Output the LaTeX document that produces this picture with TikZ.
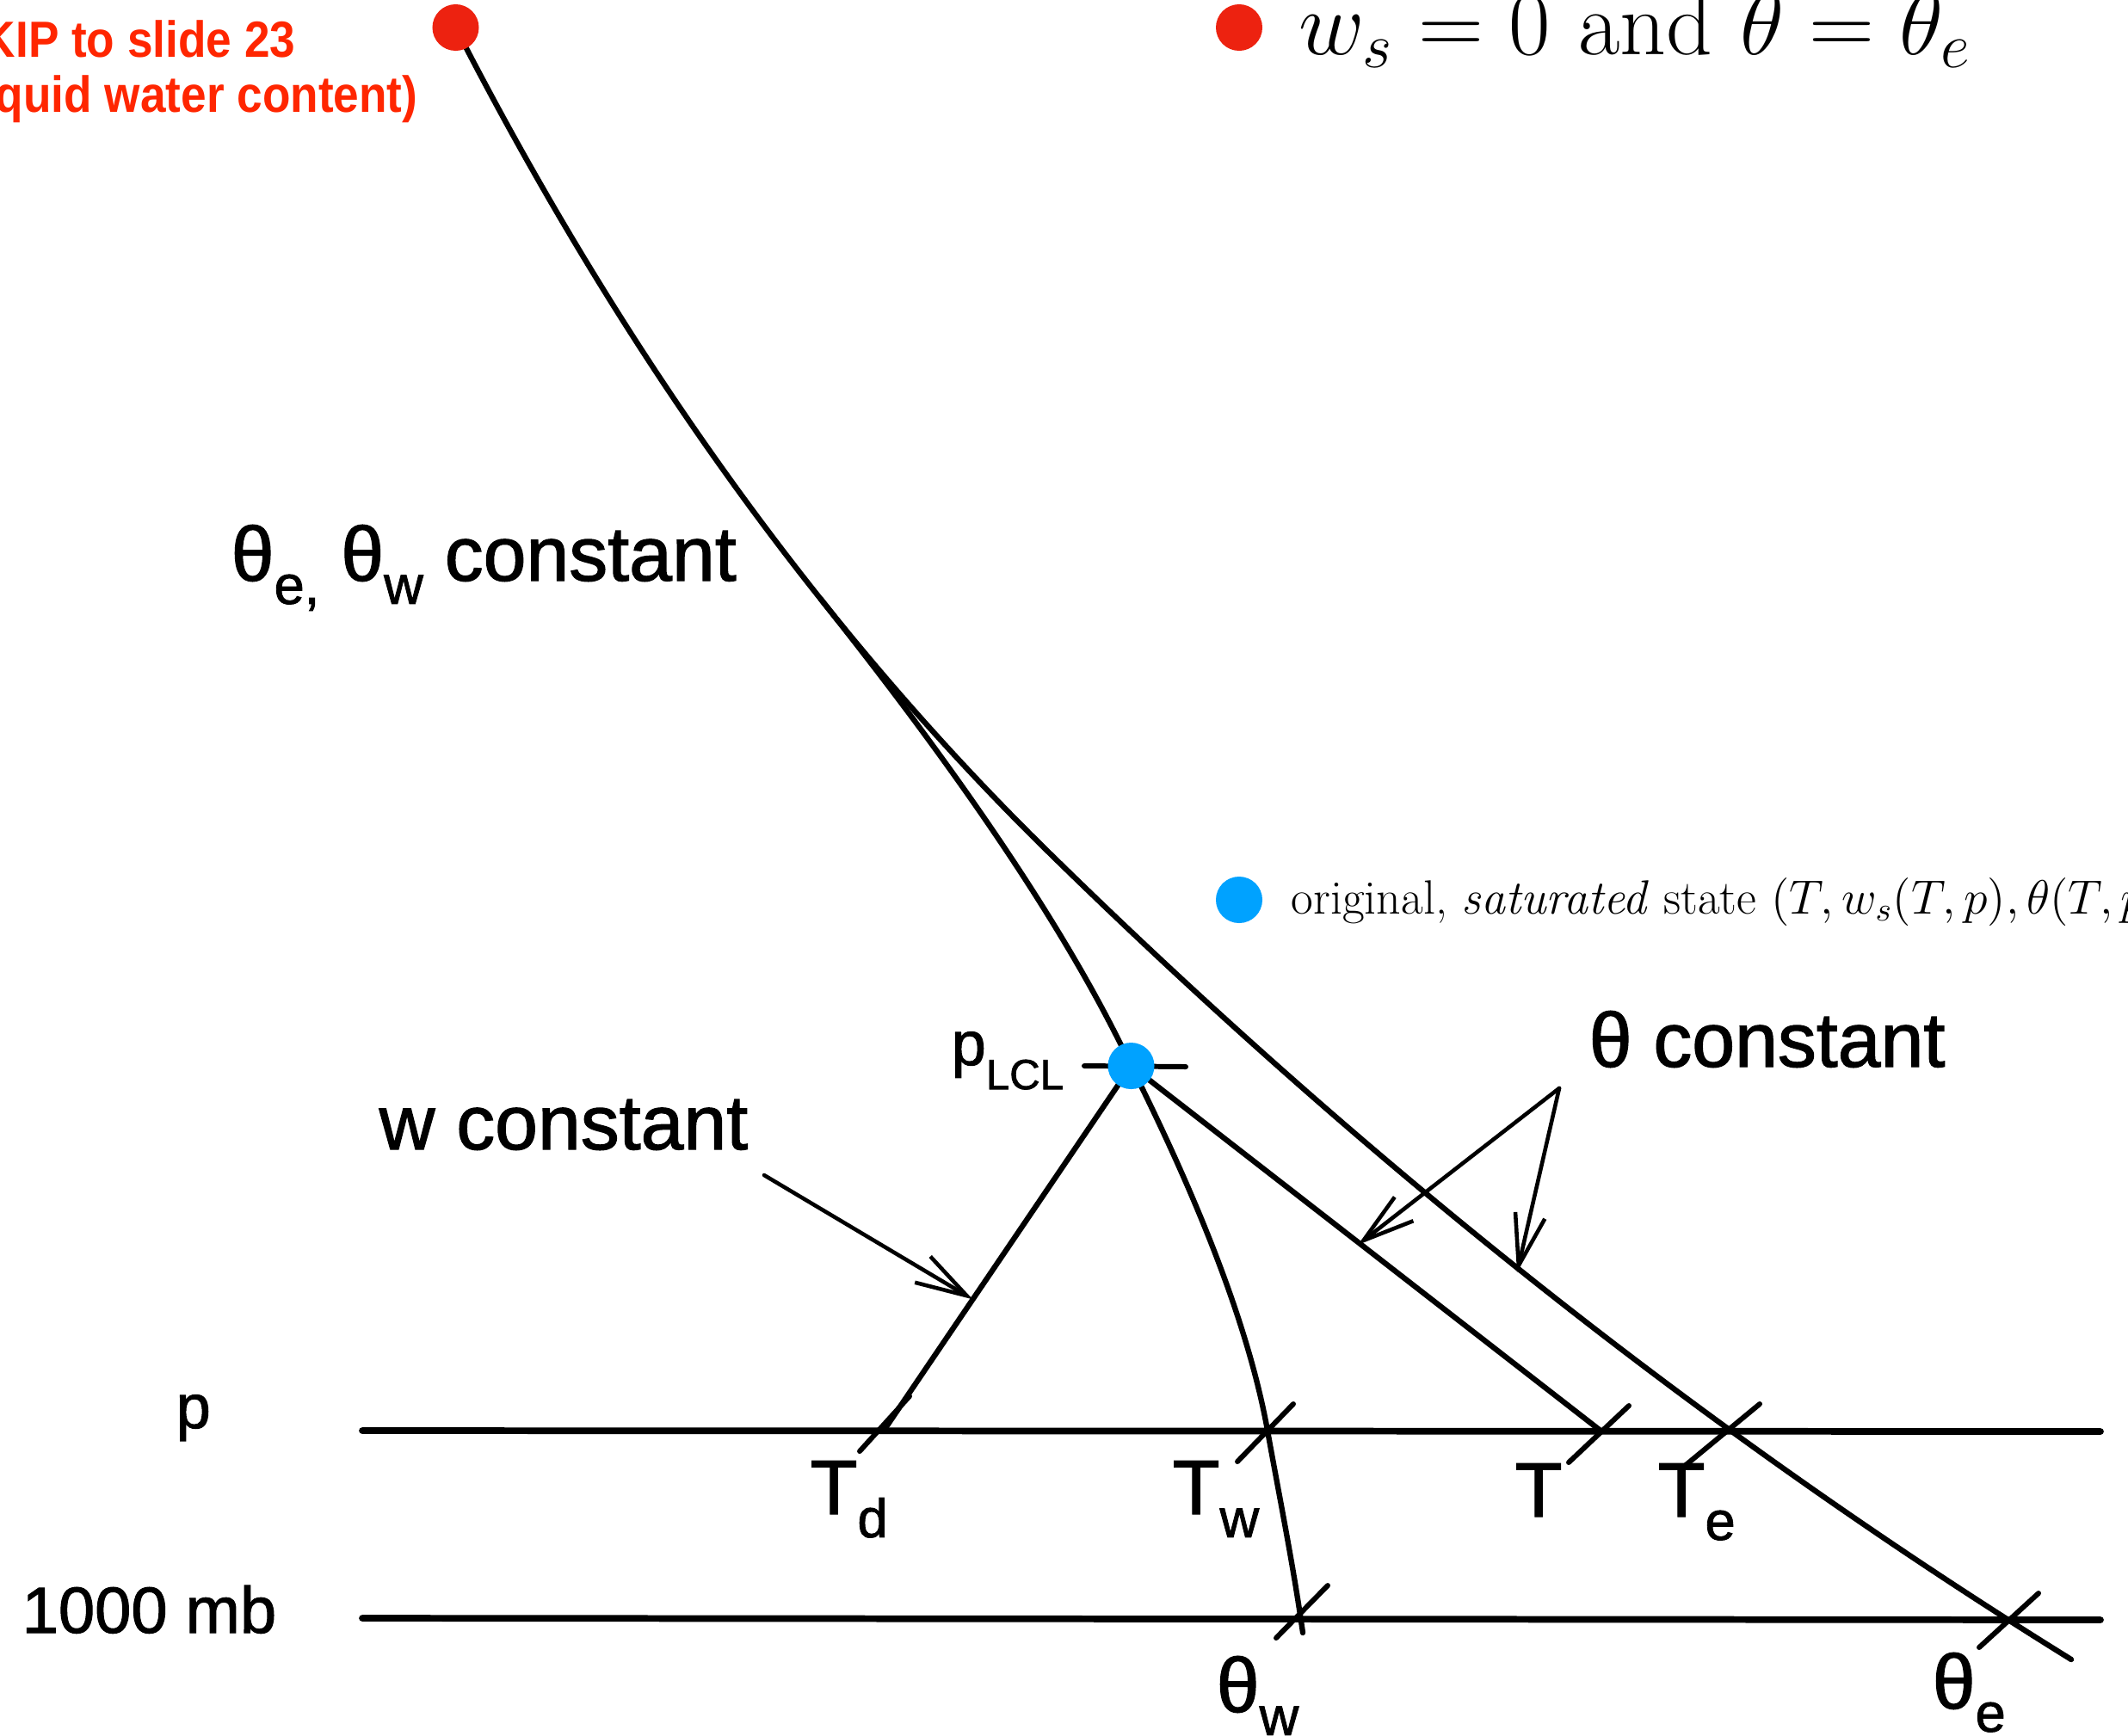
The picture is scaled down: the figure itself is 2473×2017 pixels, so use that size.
\RequirePackage{fix-cm}
\documentclass[tikz,border=0pt]{standalone}
\usepackage{fontspec}
\newfontfamily\helv{Liberation Sans}[FakeBold=1.4]
\newfontfamily\helvred{Liberation Sans}
\usetikzlibrary{arrows.meta,calc}
\definecolor{dotred}{RGB}{237,34,16}
\definecolor{txtred}{RGB}{255,38,0}
\definecolor{dotblue}{RGB}{0,162,255}
\newcommand{\lsub}[1]{\raisebox{-0.3em}{\fontsize{18}{18}\selectfont #1}}
\newcommand{\narrow}[1]{\scalebox{0.9}[1]{#1}}
\begin{document}
\begin{tikzpicture}[x=0.01cm, y=-0.01cm,
  curve/.style={line width=1.8pt, line cap=round, line join=round},
  level/.style={line width=2.2pt, line cap=round},
  tickmark/.style={line width=1.7pt, line cap=round},
  pointer/.style={line width=1.3pt, line cap=round, -{Straight Barb[length=17pt,width=10pt]}},
  lbl/.style={font=\helv\fontsize{25.5}{30}\selectfont, inner sep=0pt, anchor=base west},
  smalllbl/.style={font=\helv\fontsize{20.5}{24}\selectfont, inner sep=0pt, anchor=base west},
  dot/.style={circle, inner sep=0pt, minimum size=0.54cm},
  redtxt/.style={font=\helvred\bfseries\fontsize{16.8}{20}\selectfont, text=txtred, inner sep=0pt, anchor=base east},
  cmtxt/.style={inner sep=0pt, anchor=base west}]

\useasboundingbox (0,0) rectangle (2473,2017);
\fill[white] (0,0) rectangle (2473,2017);
\clip (0,0) rectangle (2473,2017);

% key points
\coordinate (LCL) at (1314.5,1239);
\coordinate (Td) at (1027,1663);
\coordinate (Tw) at (1473,1663);
\coordinate (T) at (1860,1663);
\coordinate (Te) at (2015,1664);
\coordinate (thw) at (1511,1881);
\coordinate (the) at (2336,1883);

% pressure levels
\coordinate (pL) at (421,1663); \coordinate (pR) at (2441,1664);
\coordinate (mL) at (421,1881); \coordinate (mR) at (2441,1883);
\draw[level] (pL) -- (pR);
\draw[level] (mL) -- (mR);

% theta_e curve (upper moist/dry adiabat and dry adiabat through Te)
\coordinate (m0) at (529.5,32);
\coordinate (mA1) at (724.2,411.6);
\coordinate (mA2) at (954,731.3);
\coordinate (m1) at (1219,991);
\coordinate (mB1) at (1592,1356.6);
\coordinate (mB2) at (1988,1669.3);
\coordinate (m2) at (2407,1929);
\draw[curve] (m0) .. controls (mA1) and (mA2) .. (m1) .. controls (mB1) and (mB2) .. (m2);

% moist adiabat through LCL, Tw, theta_w
\coordinate (w0) at (953.7,696.3);
\coordinate (wA1) at (1125.6,912);
\coordinate (wA2) at (1245.9,1092.9);
\coordinate (wB1) at (1400.2,1410.3);
\coordinate (wB2) at (1453,1551.7);
\coordinate (wC1) at (1487,1741);
\coordinate (wC2) at (1503,1820);
\coordinate (w3) at (1514,1898);
\draw[curve] (w0) .. controls (wA1) and (wA2) .. (LCL) .. controls (wB1) and (wB2) .. (Tw) .. controls (wC1) and (wC2) .. (w3);

% dry adiabat LCL -> T and mixing-ratio line LCL -> Td
\draw[curve] (LCL) -- (T);
\draw[curve] (LCL) -- (Td);

% LCL tick
\coordinate (lclA) at (1260,1239); \coordinate (lclB) at (1378,1240);
\draw[tickmark] (lclA) -- (lclB);

% crossing ticks
\draw[tickmark] (Td) ++(-28,24) -- ++(58,-64);
\draw[tickmark] (Tw) ++(-35,36) -- ++(65,-67);
\draw[tickmark] (T) ++(-37,37) -- ++(70,-66);
\draw[tickmark] (Te) ++(-56,39) -- ++(86,-71);
\draw[tickmark] (thw) ++(-28,23) -- ++(60,-61);
\draw[tickmark] (the) ++(-36,32) -- ++(69,-63);

% pointer arrows
\coordinate (wstart) at (888,1366);
\coordinate (wtip) at ($(LCL)!0.64!(Td)$);
\draw[pointer] (wstart) -- (wtip);
\coordinate (apex) at (1812,1265);
\coordinate (ltip) at (1578,1447);
\coordinate (rtip) at (1763,1479);
\draw[pointer] (apex) -- (ltip);
\draw[pointer] (apex) -- (rtip);

% dots
\node[dot, fill=dotred] (topdot) at (m0) {};
\node[dot, fill=dotblue] (lcldot) at (LCL) {};
\node[dot, fill=dotred] (legred) at (1440,32) {};
\node[dot, fill=dotblue] (legblue) at (1440,1046) {};

% slide annotations
\node[cmtxt, font=\fontsize{30}{36}\selectfont] (legredtxt) at (1509,63) {$w_s = 0$ and $\theta = \theta_e$};
\node[cmtxt, font=\fontsize{15.9}{19}\selectfont] (legbluetxt) at (1500,1062) {original, \textit{saturated} state $(T, w_s(T,p), \theta(T,p))$};
\node[redtxt] (skipa) at (344,66) {\narrow{SKIP to slide 23}};
\node[redtxt] (skipb) at (486,130) {\narrow{(liquid water content)}};

% figure labels
\node[lbl] (thconst) at (1846,1240) {θ constant};
\node[lbl] (thewconst) at (268,675) {θ\lsub{e,} θ\lsub{w} constant};
\node[lbl] (wconst) at (440,1336) {w constant};
\node[lbl] (lTd) at (941,1760) {T\lsub{d}};
\node[lbl] (lTw) at (1362,1760) {T\lsub{w}};
\node[lbl] (lT) at (1760,1763) {T};
\node[lbl] (lTe) at (1926,1763) {T\lsub{e}};
\node[lbl] (lthw) at (1413,1990) {θ\lsub{w}};
\node[lbl] (lthe) at (2245,1986) {θ\lsub{e}};
\node[smalllbl] (lp) at (204,1660) {p};
\node[lbl, font=\helv\fontsize{21.6}{26}\selectfont] (lmb) at (25,1898) {1000 mb};
\node[smalllbl] (lplcl) at (1105,1238) {p\raisebox{-8pt}{\fontsize{14}{14}\selectfont LCL}};
\end{tikzpicture}
\end{document}
